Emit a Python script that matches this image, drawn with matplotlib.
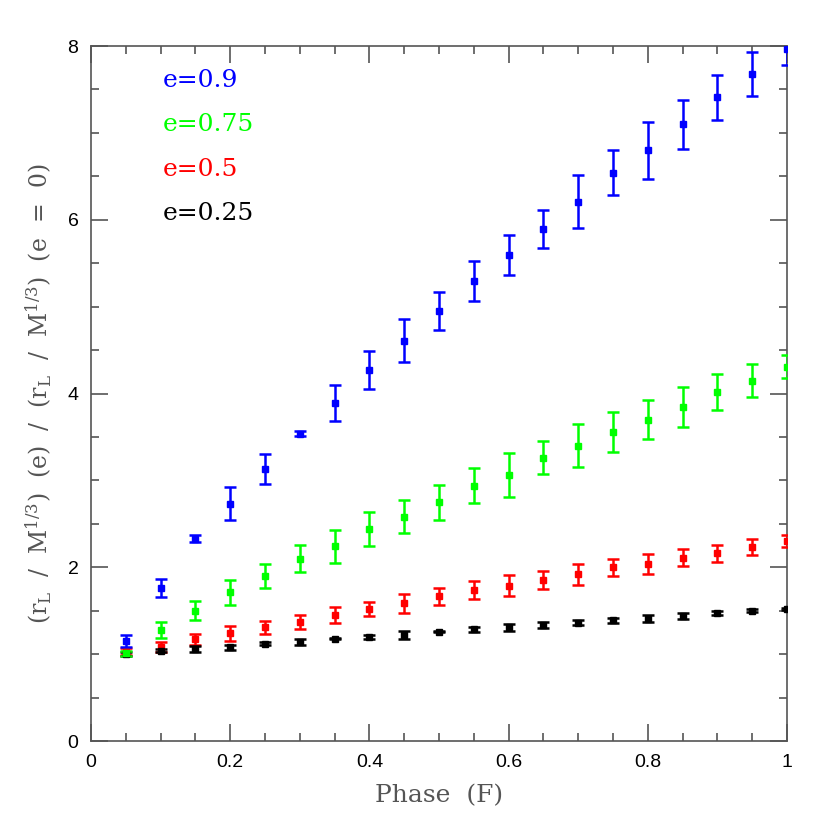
#!/usr/bin/env python3
"""Roche-lobe radius ratio vs orbital phase for several eccentricities."""

import matplotlib
matplotlib.use("Agg")

import matplotlib.pyplot as plt
import numpy as np
from matplotlib.ticker import MultipleLocator, FuncFormatter

phase = np.round(np.arange(1, 21) * 0.05, 2)

# e = 0.9
ratio_e090 = [1.15, 1.76, 2.33, 2.73, 3.13, 3.54, 3.89, 4.27, 4.61, 4.95,
              5.30, 5.59, 5.89, 6.21, 6.54, 6.80, 7.10, 7.41, 7.68, 7.97]
err_e090 = [0.07, 0.10, 0.04, 0.19, 0.17, 0.03, 0.21, 0.22, 0.25, 0.22,
            0.23, 0.23, 0.22, 0.31, 0.26, 0.33, 0.28, 0.26, 0.25, 0.19]

# e = 0.75
ratio_e075 = [1.01, 1.28, 1.50, 1.71, 1.90, 2.10, 2.24, 2.44, 2.58, 2.75,
              2.94, 3.06, 3.26, 3.40, 3.56, 3.70, 3.85, 4.02, 4.15, 4.31]
err_e075 = [0.03, 0.09, 0.11, 0.14, 0.14, 0.155, 0.19, 0.195, 0.19, 0.20,
            0.20, 0.255, 0.19, 0.25, 0.23, 0.225, 0.23, 0.21, 0.185, 0.135]

# e = 0.5
ratio_e050 = [1.03, 1.085, 1.17, 1.24, 1.31, 1.37, 1.45, 1.52, 1.585, 1.665,
              1.74, 1.79, 1.85, 1.92, 2.00, 2.04, 2.11, 2.16, 2.23, 2.30]
err_e050 = [0.04, 0.06, 0.065, 0.085, 0.075, 0.085, 0.095, 0.085, 0.11, 0.10,
            0.10, 0.12, 0.105, 0.12, 0.095, 0.115, 0.10, 0.10, 0.09, 0.07]

# e = 0.25
ratio_e025 = [1.00, 1.04, 1.06, 1.08, 1.12, 1.14, 1.18, 1.20, 1.22, 1.26,
              1.285, 1.31, 1.335, 1.36, 1.39, 1.41, 1.44, 1.47, 1.50, 1.52]
err_e025 = [0.02, 0.02, 0.03, 0.03, 0.02, 0.035, 0.01, 0.025, 0.045, 0.01,
            0.03, 0.04, 0.03, 0.03, 0.03, 0.035, 0.035, 0.025, 0.02, 0.01]

series = [
    ("e=0.5", ratio_e050, err_e050, "#ff0000"),
    ("e=0.25", ratio_e025, err_e025, "#000000"),
    ("e=0.75", ratio_e075, err_e075, "#00ff00"),
    ("e=0.9", ratio_e090, err_e090, "#0000ff"),
]
legend_order = ["e=0.9", "e=0.75", "e=0.5", "e=0.25"]

AXIS_GREY = "#555555"
LABEL_FONT = ["DejaVu Serif"]
plt.rcParams["mathtext.fontset"] = "dejavuserif"

fig = plt.figure(figsize=(8.3, 8.3), dpi=100)
ax = fig.add_axes([0.1096, 0.1072, 0.8386, 0.8373])

for label, vals, errs, col in series:
    ax.errorbar(phase, vals, yerr=errs, fmt="s", color=col, ms=4.5,
                elinewidth=1.8, capsize=4, capthick=1.8, zorder=3)

ax.set_xlim(0, 1)
ax.set_ylim(0, 8)
ax.xaxis.set_major_locator(MultipleLocator(0.2))
ax.xaxis.set_minor_locator(MultipleLocator(0.05))
ax.yaxis.set_major_locator(MultipleLocator(2))
ax.yaxis.set_minor_locator(MultipleLocator(0.5))
ax.xaxis.set_major_formatter(FuncFormatter(lambda v, p: "%g" % round(v, 2)))
ax.tick_params(which="both", direction="in", top=True, right=True,
               color=AXIS_GREY, labelsize=14, width=1.2)
ax.tick_params(which="major", length=12, pad=9)
ax.tick_params(which="minor", length=6)
for sp in ax.spines.values():
    sp.set_color(AXIS_GREY)
    sp.set_linewidth(1.2)

for tl in ax.get_xticklabels() + ax.get_yticklabels():
    tl.set_family(["Liberation Sans", "DejaVu Sans"])

ax.set_xlabel("Phase  (F)", family=LABEL_FONT, fontsize=18, color="#555555",
              labelpad=10)
ax.set_ylabel(r"(r$_{\rm L}$  /  M$^{1/3}$)  (e)  /  (r$_{\rm L}$  /  M$^{1/3}$)  (e  =  0)",
              family=LABEL_FONT, fontsize=17, color="#555555", labelpad=10)

colors = {s[0]: s[3] for s in series}
for i, name in enumerate(legend_order):
    ax.text(0.103, 0.95 - i * 0.0635, name, transform=ax.transAxes,
            family=LABEL_FONT, fontsize=18, color=colors[name],
            va="center", ha="left")

fig.savefig("out.png", dpi=100)
